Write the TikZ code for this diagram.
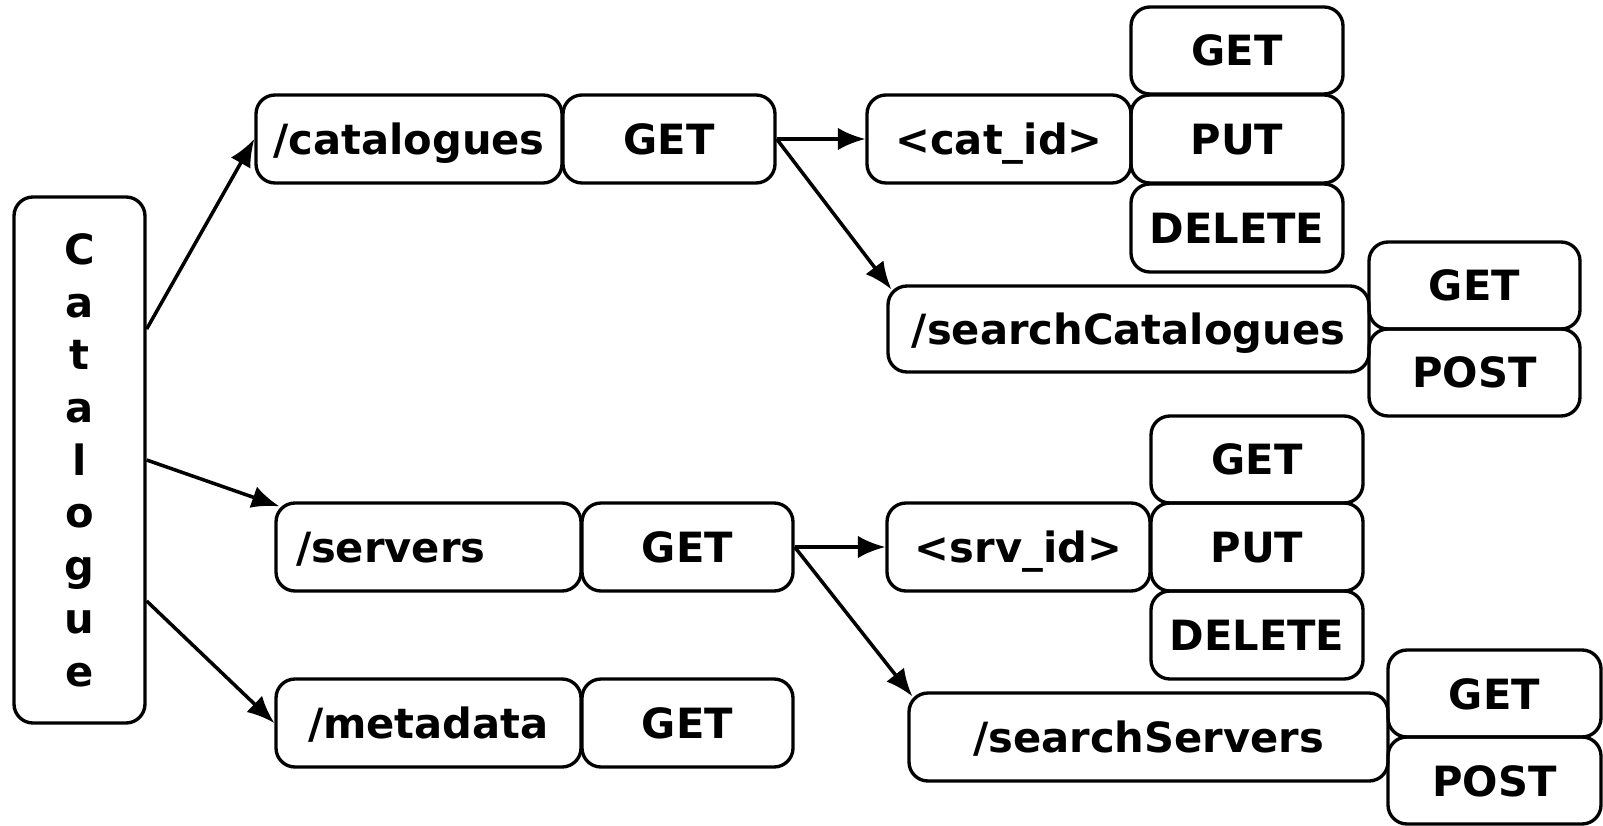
\documentclass[tikz,border=0pt]{standalone}
\usepackage{fontspec}
\setmainfont{DejaVu Sans}
\usetikzlibrary{arrows.meta}

\begin{document}
\begin{tikzpicture}[
	box/.style={draw,rounded corners=0.38cm,line width=1.9pt,font=\fontsize{23.7}{30}\selectfont\bfseries},
	cell/.style={box,minimum height=1.76cm,text height=0.62cm,text depth=0cm},
	link/.style={->,line width=2pt},
	>={Latex[length=0.55cm,width=0.45cm]}]
			\useasboundingbox (0,0) rectangle (32.06,16.5);
			\node[box,minimum width=2.62cm,minimum height=10.52cm,align=center] (Catalogue) at (1.59,7.30) {C\\a\\t\\a\\l\\o\\g\\u\\e};
			
			\node[cell,minimum width=6.12cm] (Catalogues) at (8.18,13.72) {/catalogues};
			\node[cell,minimum width=4.24cm] (CatGet) at (13.38,13.72) {GET};
			\node[cell,minimum width=5.28cm] (CatId) at (19.98,13.72) {<cat\_id>};
			\node[cell,minimum width=4.24cm,minimum height=1.74cm] (CatIdGet) at (24.74,15.49) {GET};
			\node[cell,minimum width=4.24cm] (CatIdPut) at (24.74,13.72) {PUT};
			\node[cell,minimum width=4.24cm] (CatIdDelete) at (24.74,11.94) {DELETE};
			\node[cell,minimum width=9.62cm,minimum height=1.72cm] (SearchCat) at (22.57,9.92) {/searchCatalogues};
			\node[cell,minimum width=4.22cm,minimum height=1.74cm] (SearchCatGet) at (29.49,10.79) {GET};
			\node[cell,minimum width=4.22cm,minimum height=1.74cm] (SearchCatPost) at (29.49,9.05) {POST};
			
			\node[cell,minimum width=6.1cm,text width=5.3cm,align=left,inner xsep=0.4cm] (Servers) at (8.57,5.56) {/servers};
			\node[cell,minimum width=4.22cm] (SrvGet) at (13.75,5.56) {GET};
			\node[cell,minimum width=5.26cm] (SrvId) at (20.37,5.56) {<srv\_id>};
			\node[cell,minimum width=4.24cm,minimum height=1.74cm] (SrvIdGet) at (25.14,7.31) {GET};
			\node[cell,minimum width=4.24cm] (SrvIdPut) at (25.14,5.56) {PUT};
			\node[cell,minimum width=4.24cm] (SrvIdDelete) at (25.14,3.80) {DELETE};
			\node[cell,minimum width=9.58cm] (SearchSrv) at (22.97,1.76) {/searchServers};
			\node[cell,minimum width=4.26cm,minimum height=1.74cm] (SearchSrvGet) at (29.89,2.63) {GET};
			\node[cell,minimum width=4.26cm,minimum height=1.74cm] (SearchSrvPost) at (29.89,0.89) {POST};
			
			\node[cell,minimum width=6.1cm] (Metadata) at (8.57,2.04) {/metadata};
			\node[cell,minimum width=4.22cm] (MetaGet) at (13.75,2.04) {GET};
			
			\draw[link] ([yshift=2.62cm]Catalogue.east) to (Catalogues.west);
			\draw[link] (Catalogue.east) to ([shift={(0.1,-0.1)}]Servers.north west);
			\draw[link] ([yshift=-2.82cm]Catalogue.east) to (Metadata.west);
			\draw[link] (CatGet.east) to (CatId.west);
			\draw[link] (CatGet.east) to ([shift={(0.1,-0.1)}]SearchCat.north west);
			\draw[link] (SrvGet.east) to (SrvId.west);
			\draw[link] (SrvGet.east) to ([shift={(0.1,-0.1)}]SearchSrv.north west);
\end{tikzpicture}
\end{document}
